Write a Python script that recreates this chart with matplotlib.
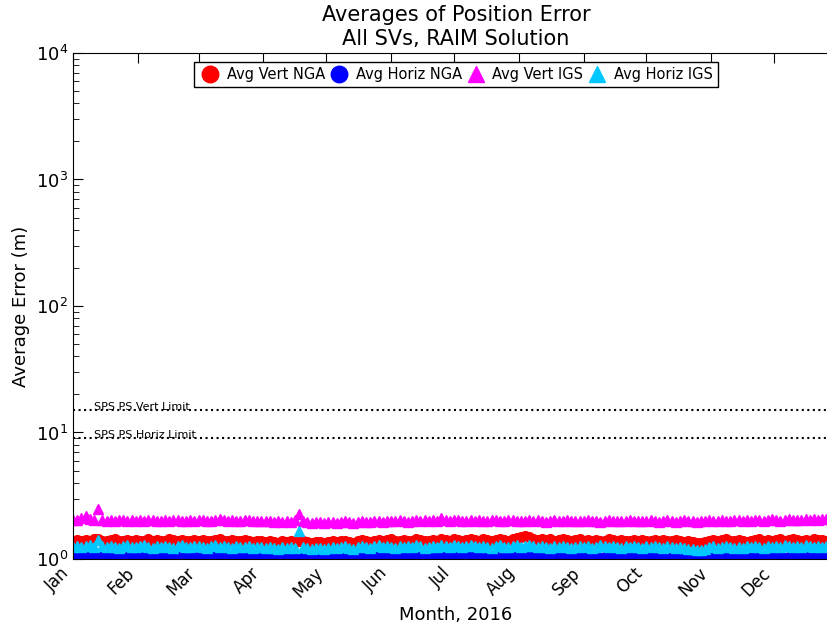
import numpy as np
import matplotlib
matplotlib.use("Agg")
import matplotlib.pyplot as plt
import matplotlib.dates as mdates

# sample dates: every 2 days through 2016
dates = np.datetime64("2016-01-01") + np.arange(0, 366, 2).astype("timedelta64[D]")

vert_igs = [
    2.02, 2.05, 2.10, 2.18, 2.06, 2.03, 2.48, 2.04, 2.01, 2.03, 2.00, 2.04, 2.02, 1.99, 2.03,
    2.01, 2.04, 2.00, 2.02, 2.05, 1.99, 2.01, 2.03, 2.00, 2.04, 2.02, 1.98, 2.01, 2.03, 2.00,
    2.02, 2.05, 2.01, 1.99, 2.03, 2.06, 2.02, 2.00, 2.03, 2.01, 1.98, 2.02, 2.04, 2.00, 1.99,
    2.01, 1.98, 2.00, 1.97, 1.99, 1.96, 1.98, 1.97, 2.02, 2.28, 2.00, 1.96, 1.94, 1.95, 1.97,
    1.93, 1.95, 1.97, 1.94, 1.96, 1.98, 1.95, 1.93, 1.96, 1.99, 1.97, 1.95, 1.98, 2.00, 1.97,
    1.99, 2.01, 1.98, 2.02, 2.00, 1.97, 2.01, 2.03, 1.99, 2.02, 2.00, 2.04, 2.01, 2.12, 2.03,
    2.00, 2.02, 2.05, 2.01, 1.99, 2.03, 2.01, 2.04, 2.00, 1.98, 2.02, 2.05, 2.01, 1.99, 2.02,
    2.03, 2.00, 1.98, 2.01, 2.04, 1.99, 2.02, 2.00, 1.97, 2.01, 2.03, 2.00, 1.98, 2.02, 2.00,
    2.01, 1.98, 2.00, 2.03, 1.99, 2.01, 1.97, 2.00, 2.02, 1.99, 2.01, 1.98, 2.00, 2.03, 2.00,
    1.98, 2.01, 1.99, 2.02, 2.00, 1.97, 2.01, 2.03, 1.99, 1.97, 1.99, 2.02, 2.00, 1.98, 1.96,
    1.98, 2.00, 2.03, 1.99, 2.01, 2.04, 2.00, 1.98, 2.02, 2.05, 2.01, 2.03, 2.00, 2.02, 2.04,
    2.01, 2.03, 2.06, 2.02, 2.00, 2.04, 2.07, 2.03, 2.05, 2.02, 2.06, 2.04, 2.08, 2.05, 2.07,
    2.06, 2.09, 2.07,
]

vert_nga = [
    1.40, 1.42, 1.38, 1.41, 1.39, 1.43, 1.45, 1.40, 1.38, 1.41, 1.43, 1.39, 1.40, 1.42, 1.39,
    1.41, 1.38, 1.40, 1.43, 1.39, 1.41, 1.38, 1.40, 1.44, 1.41, 1.39, 1.42, 1.40, 1.38, 1.41,
    1.39, 1.42, 1.40, 1.38, 1.41, 1.43, 1.40, 1.39, 1.42, 1.40, 1.38, 1.41, 1.39, 1.37, 1.40,
    1.38, 1.36, 1.39, 1.37, 1.35, 1.38, 1.36, 1.39, 1.37, 1.40, 1.38, 1.36, 1.35, 1.37, 1.36,
    1.35, 1.37, 1.39, 1.36, 1.38, 1.40, 1.37, 1.35, 1.38, 1.41, 1.39, 1.37, 1.40, 1.42, 1.39,
    1.41, 1.43, 1.40, 1.38, 1.42, 1.40, 1.39, 1.43, 1.41, 1.38, 1.40, 1.42, 1.39, 1.44, 1.41,
    1.40, 1.43, 1.41, 1.39, 1.42, 1.44, 1.41, 1.40, 1.43, 1.41, 1.39, 1.42, 1.45, 1.42, 1.40,
    1.43, 1.46, 1.49, 1.52, 1.48, 1.45, 1.42, 1.44, 1.41, 1.43, 1.40, 1.42, 1.44, 1.41, 1.39,
    1.41, 1.43, 1.40, 1.42, 1.39, 1.41, 1.38, 1.40, 1.43, 1.41, 1.39, 1.42, 1.40, 1.38, 1.41,
    1.39, 1.42, 1.40, 1.38, 1.41, 1.39, 1.42, 1.40, 1.38, 1.41, 1.39, 1.37, 1.40, 1.36, 1.34,
    1.35, 1.37, 1.40, 1.42, 1.39, 1.41, 1.43, 1.40, 1.38, 1.41, 1.39, 1.36, 1.38, 1.41, 1.43,
    1.40, 1.42, 1.39, 1.41, 1.43, 1.40, 1.42, 1.44, 1.41, 1.39, 1.42, 1.40, 1.43, 1.41, 1.42,
    1.40, 1.43, 1.41,
]

horiz_igs = [
    1.25, 1.27, 1.24, 1.26, 1.28, 1.25, 1.42, 1.26, 1.24, 1.27, 1.25, 1.23, 1.26, 1.28, 1.25,
    1.24, 1.26, 1.28, 1.25, 1.23, 1.26, 1.24, 1.27, 1.25, 1.23, 1.26, 1.28, 1.25, 1.24, 1.26,
    1.27, 1.25, 1.23, 1.26, 1.28, 1.24, 1.26, 1.25, 1.23, 1.27, 1.25, 1.24, 1.26, 1.23, 1.25,
    1.24, 1.22, 1.25, 1.23, 1.21, 1.24, 1.22, 1.25, 1.23, 1.66, 1.24, 1.22, 1.21, 1.23, 1.22,
    1.21, 1.23, 1.25, 1.22, 1.24, 1.26, 1.23, 1.21, 1.24, 1.27, 1.25, 1.23, 1.26, 1.28, 1.25,
    1.27, 1.25, 1.23, 1.26, 1.24, 1.27, 1.25, 1.28, 1.26, 1.23, 1.25, 1.27, 1.24, 1.29, 1.26,
    1.25, 1.28, 1.26, 1.24, 1.27, 1.29, 1.26, 1.24, 1.27, 1.25, 1.23, 1.26, 1.28, 1.25, 1.24,
    1.26, 1.28, 1.25, 1.27, 1.29, 1.26, 1.24, 1.27, 1.25, 1.23, 1.26, 1.24, 1.27, 1.25, 1.23,
    1.25, 1.27, 1.24, 1.26, 1.23, 1.25, 1.28, 1.26, 1.24, 1.27, 1.25, 1.23, 1.26, 1.24, 1.27,
    1.25, 1.23, 1.26, 1.24, 1.27, 1.25, 1.23, 1.26, 1.24, 1.22, 1.25, 1.23, 1.21, 1.19, 1.17,
    1.18, 1.21, 1.24, 1.26, 1.23, 1.25, 1.27, 1.24, 1.22, 1.25, 1.23, 1.26, 1.24, 1.27, 1.25,
    1.23, 1.26, 1.24, 1.27, 1.25, 1.28, 1.26, 1.24, 1.27, 1.25, 1.29, 1.26, 1.24, 1.27, 1.25,
    1.26, 1.28, 1.25,
]

horiz_nga = [
    1.03, 1.04, 1.02, 1.05, 1.03, 1.04, 1.06, 1.03, 1.02, 1.04, 1.03, 1.05, 1.02, 1.04, 1.03,
    1.02, 1.04, 1.03, 1.05, 1.02, 1.03, 1.04, 1.02, 1.05, 1.03, 1.04, 1.02, 1.03, 1.05, 1.03,
    1.04, 1.02, 1.03, 1.05, 1.03, 1.02, 1.04, 1.03, 1.05, 1.02, 1.04, 1.03, 1.02, 1.04, 1.03,
    1.02, 1.04, 1.03, 1.01, 1.03, 1.02, 1.04, 1.03, 1.02, 1.05, 1.03, 1.02, 1.04, 1.03, 1.02,
    1.03, 1.02, 1.04, 1.03, 1.05, 1.03, 1.02, 1.04, 1.03, 1.05, 1.04, 1.02, 1.04, 1.06, 1.03,
    1.04, 1.02, 1.05, 1.03, 1.04, 1.02, 1.05, 1.03, 1.04, 1.06, 1.03, 1.04, 1.02, 1.05, 1.03,
    1.04, 1.06, 1.03, 1.02, 1.05, 1.03, 1.04, 1.02, 1.05, 1.03, 1.04, 1.06, 1.03, 1.02, 1.04,
    1.05, 1.03, 1.04, 1.06, 1.04, 1.03, 1.05, 1.02, 1.04, 1.03, 1.05, 1.02, 1.04, 1.03, 1.02,
    1.04, 1.03, 1.05, 1.02, 1.04, 1.03, 1.02, 1.04, 1.03, 1.05, 1.02, 1.04, 1.03, 1.05, 1.03,
    1.02, 1.04, 1.03, 1.05, 1.02, 1.04, 1.03, 1.02, 1.04, 1.03, 1.05, 1.04, 1.06, 1.08, 1.10,
    1.08, 1.06, 1.04, 1.03, 1.05, 1.02, 1.04, 1.03, 1.05, 1.04, 1.02, 1.04, 1.03, 1.05, 1.04,
    1.02, 1.04, 1.03, 1.05, 1.04, 1.02, 1.04, 1.03, 1.05, 1.03, 1.04, 1.02, 1.04, 1.03, 1.05,
    1.03, 1.04, 1.02,
]

vert_limit = 15
horiz_limit = 9

fig = plt.figure(figsize=(8.28, 6.33), dpi=100)
# axes runs a bit past the right edge, like the original crop
ax = fig.add_axes([0.0882, 0.1169, 0.925, 0.7994])

ms = 7
ax.plot(dates, vert_nga, "o", color="red", mec="red", ms=ms, label="Avg Vert NGA")
ax.plot(dates, horiz_nga, "o", color="blue", mec="blue", ms=ms, label="Avg Horiz NGA")
ax.plot(dates, vert_igs, "^", color="magenta", mec="magenta", ms=ms, label="Avg Vert IGS")
ax.plot(dates, horiz_igs, "^", color="#00C8FF", mec="#00C8FF", ms=ms, label="Avg Horiz IGS")

ax.axhline(vert_limit, color="k", linestyle=":", linewidth=1.5)
ax.axhline(horiz_limit, color="k", linestyle=":", linewidth=1.5)
ax.text(np.datetime64("2016-01-11"), vert_limit * 1.01, "SPS PS Vert Limit", fontsize=8, va="baseline")
ax.text(np.datetime64("2016-01-11"), horiz_limit * 1.01, "SPS PS Horiz Limit", fontsize=8, va="baseline")

ax.set_yscale("log")
ax.set_ylim(1, 1e4)
ax.set_xlim(np.datetime64("2016-01-01"), np.datetime64("2016-12-31T23:00"))

ax.xaxis.set_major_locator(mdates.MonthLocator())
ax.xaxis.set_major_formatter(mdates.DateFormatter("%b"))
plt.setp(ax.get_xticklabels(), rotation=45, ha="right")

ax.tick_params(which="both", direction="in", top=True, right=True)
ax.tick_params(which="major", length=7, labelsize=13)
ax.tick_params(which="minor", length=4)
ax.tick_params(axis="x", labelsize=12)

ax.set_title("Averages of Position Error\nAll SVs, RAIM Solution", fontsize=15)
ax.set_xlabel("Month, 2016", fontsize=13)
ax.set_ylabel("Average Error (m)", fontsize=13)

leg = ax.legend(loc="upper center", bbox_to_anchor=(0.5, 1.0), ncol=4, fontsize=10.5,
                markerscale=1.7, numpoints=1, handlelength=1.5, handletextpad=0.4,
                columnspacing=0.2, borderpad=0.35, borderaxespad=0.6,
                fancybox=False, framealpha=1)
leg.get_frame().set_edgecolor("black")

fig.savefig("out.png", dpi=100)
